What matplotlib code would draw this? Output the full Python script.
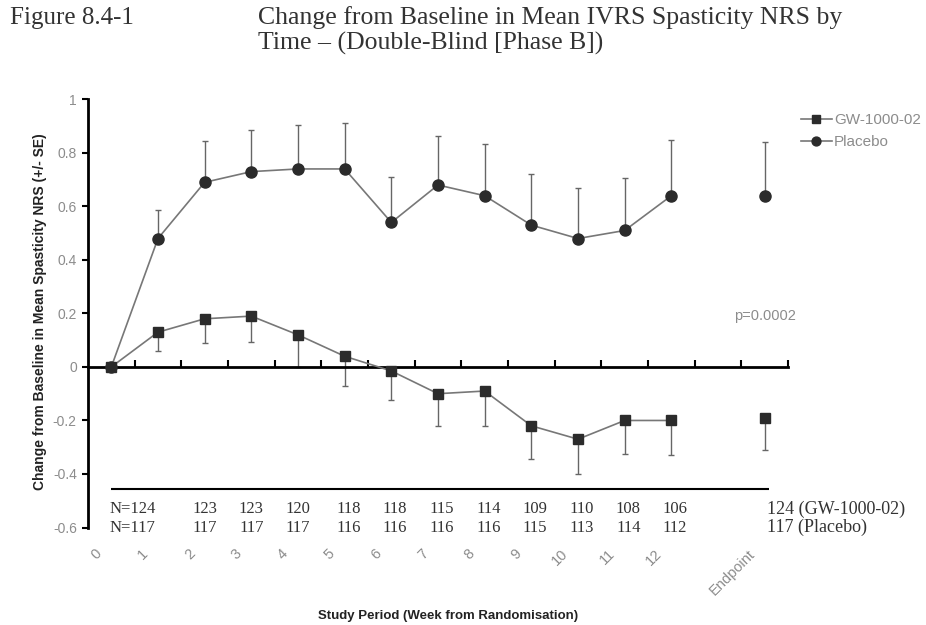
import numpy as np
import matplotlib
matplotlib.use('Agg')
import matplotlib.pyplot as plt

plt.rcParams['font.family'] = ['Liberation Sans', 'DejaVu Sans']

# Data
weeks = list(range(0, 13))
gw_mean = [0, 0.13, 0.18, 0.19, 0.12, 0.04, -0.015, -0.10, -0.09, -0.22, -0.27, -0.20, -0.20]
gw_se = [0, 0.07, 0.09, 0.095, 0.12, 0.11, 0.11, 0.12, 0.13, 0.125, 0.13, 0.125, 0.13]
pl_mean = [0, 0.48, 0.69, 0.73, 0.74, 0.74, 0.54, 0.68, 0.64, 0.53, 0.48, 0.51, 0.64]
pl_se = [0, 0.107, 0.153, 0.156, 0.164, 0.17, 0.17, 0.183, 0.195, 0.19, 0.19, 0.195, 0.21]
gw_end, gw_end_se = -0.19, 0.12
pl_end, pl_end_se = 0.64, 0.20

n_gw = ['N=124', '123', '123', '120', '118', '118', '115', '114', '109', '110', '108', '106']
n_pl = ['N=117', '117', '117', '117', '116', '116', '116', '116', '115', '113', '114', '112']
n_end = ['124 (GW-1000-02)', '117 (Placebo)']
x_labels = [str(w) for w in weeks] + ['Endpoint']
x_label_pos = weeks + [14]
end_x = 14

line_c = '#777777'
mark_c = '#2b2b2b'
err_c = '#666666'
grey_txt = '#8c8c8c'

fig = plt.figure(figsize=(9.26, 6.25), dpi=100)
ax = fig.add_axes([0.095, 0.156, 0.756, 0.685])

# error bars: GW downward, placebo upward
eb = dict(fmt='none', ecolor=err_c, elinewidth=1, capsize=2.5, capthick=1, zorder=2)
ax.errorbar(weeks, gw_mean, yerr=[gw_se, [0] * len(gw_se)], **eb)
ax.errorbar(weeks, pl_mean, yerr=[[0] * len(pl_se), pl_se], **eb)
ax.errorbar([end_x], [gw_end], yerr=[[gw_end_se], [0]], **eb)
ax.errorbar([end_x], [pl_end], yerr=[[0], [pl_end_se]], **eb)

gw_line, = ax.plot(weeks, gw_mean, color=line_c, lw=1.2, marker='s', ms=7,
                   mfc=mark_c, mec=mark_c, zorder=3, label='GW-1000-02')
pl_line, = ax.plot(weeks, pl_mean, color=line_c, lw=1.2, marker='o', ms=8,
                   mfc=mark_c, mec=mark_c, zorder=3, label='Placebo')
ax.plot([end_x], [gw_end], ls='none', marker='s', ms=7, mfc=mark_c, mec=mark_c, zorder=3)
ax.plot([end_x], [pl_end], ls='none', marker='o', ms=8, mfc=mark_c, mec=mark_c, zorder=3)

ax.set_xlim(-0.5, 14.5)
ax.set_ylim(-0.6, 1.0)

for s in ['top', 'right']:
    ax.spines[s].set_visible(False)
ax.spines['bottom'].set_position(('data', 0))
ax.spines['bottom'].set_linewidth(2)
ax.spines['left'].set_linewidth(2)

ax.set_xticks(np.arange(0.5, 15, 1))
ax.set_xticklabels([])
ax.tick_params(axis='x', direction='in', length=5, width=1.5)
yt = np.round(np.arange(-0.6, 1.01, 0.2), 1)
ax.set_yticks(yt)
ax.set_yticklabels([f'{v:g}' for v in yt], color=grey_txt, fontsize=10)
ax.tick_params(axis='y', direction='out', length=4, width=1.5, pad=4)

# N table under the plot
ax.hlines(-0.455, 0, 14.1, color='black', lw=1.5, clip_on=False)
serif = ['Liberation Serif', 'DejaVu Serif']
for i, (a, b) in enumerate(zip(n_gw, n_pl)):
    x = weeks[i + 1] + 0.08 * (i > 3)
    ha = 'center'
    if i == 0:
        x, ha = 0.95, 'right'
    ax.text(x, -0.531, a, ha=ha, va='center', family=serif, fontsize=12, color='#333333')
    ax.text(x, -0.600, b, ha=ha, va='center', family=serif, fontsize=12, color='#333333')
ax.text(end_x + 0.05, -0.531, n_end[0], ha='left', va='center', family=serif,
        fontsize=13, color='#333333', clip_on=False)
ax.text(end_x + 0.05, -0.600, n_end[1], ha='left', va='center', family=serif,
        fontsize=13, color='#333333', clip_on=False)

# rotated week labels
for x, lab in zip(x_label_pos, x_labels):
    ax.text(x - 0.15, -0.045, lab, transform=ax.get_xaxis_transform(), rotation=45,
            ha='right', va='top', fontsize=10.5, color=grey_txt)

ax.text(14.0, 0.19, 'p=0.0002', ha='center', va='center', fontsize=10.5, color=grey_txt)

leg = ax.legend(handles=[gw_line, pl_line], loc='upper left',
                bbox_to_anchor=(801 / 926, 1 - 113 / 625), bbox_transform=fig.transFigure,
                frameon=False, fontsize=11, handlelength=2.0, handletextpad=0.15,
                labelspacing=0.55, borderaxespad=0, borderpad=0, numpoints=1,
                markerscale=0.8)
for t in leg.get_texts():
    t.set_color(grey_txt)

fig.text(40 / 926, 1 - 312 / 625, 'Change from Baseline in Mean Spasticity NRS (+/- SE)',
         rotation=90, ha='center', va='center', fontsize=10, fontweight='bold', color='#222222')
fig.text(448 / 926, 1 - 616 / 625, 'Study Period (Week from Randomisation)',
         ha='center', va='center', fontsize=9.5, fontweight='bold', color='#222222')

fig.text(10 / 926, 1 - 18 / 625, 'Figure 8.4-1', ha='left', va='center',
         family=serif, fontsize=18, color='#333333')
fig.text(258 / 926, 1 - 18 / 625, 'Change from Baseline in Mean IVRS Spasticity NRS by',
         ha='left', va='center', family=serif, fontsize=18.5, color='#333333')
fig.text(258 / 926, 1 - 43 / 625, 'Time \u2013 (Double-Blind [Phase B])',
         ha='left', va='center', family=serif, fontsize=18.5, color='#333333')

fig.savefig('out.png', dpi=100)
